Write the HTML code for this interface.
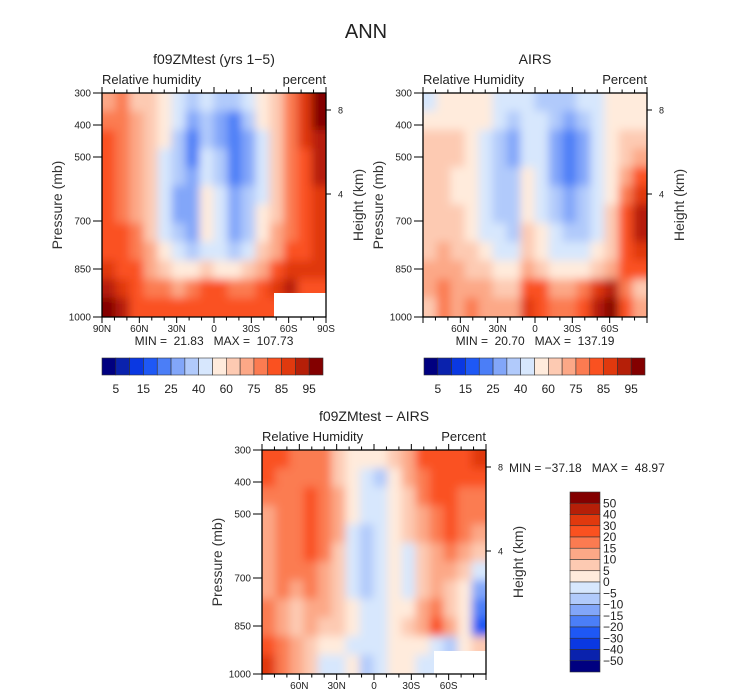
<!DOCTYPE html>
<html><head><meta charset="utf-8">
<style>
html,body{margin:0;padding:0;background:#fff;}
svg{display:block;font-family:"Liberation Sans",sans-serif;}
text{white-space:pre;}
</style></head>
<body>
<svg id="chart" width="733" height="699" viewBox="0 0 733 699">
<defs><filter id="sm" filterUnits="userSpaceOnUse" x="0" y="0" width="733" height="699"><feGaussianBlur stdDeviation="4.5"/></filter>
<clipPath id="c1"><rect x="102" y="93" width="224" height="224"/></clipPath>
<clipPath id="c2"><rect x="423" y="93" width="224" height="224"/></clipPath>
<clipPath id="c3"><rect x="262" y="450" width="224" height="224"/></clipPath></defs>
<text x="366" y="38" font-size="20" text-anchor="middle" fill="#222">ANN</text>
</svg>
<script>
// ---- data ----
const palette = ["#000080","#0a22ad","#0a38e2","#1e58f5","#4b7ef7","#82a6f9","#b1cafb","#d7e7fd","#ffebdc","#fdcab2","#fca887","#fb7b51","#fa5120","#e0390e","#b51f08","#830000"];
const rhLevels = [5,10,15,20,25,30,40,50,60,70,75,80,85,90,95];
const diffLevels = [-50,-40,-30,-20,-15,-10,-5,0,5,10,15,20,30,40,50];
const rhTickLabels = ["5","15","25","40","60","75","85","95"];
const diffTickLabels = ["50","40","30","20","15","10","5","0","\u22125","\u221210","\u221215","\u221220","\u221230","\u221240","\u221250"];
const rhRep = [2,7,12,17,22,27,35,45,55,65,72,77,82,87,92,99];
const diffRep = [-55,-45,-35,-25,-17,-12,-7,-2,2,7,12,17,25,35,45,55];
const pressureTicks = [300,400,500,700,850,1000];
const heightTicks = [8,4];
const latTicks = [90,60,30,0,-30,-60,-90];
// grid values (rows: 300 mb -> 1000 mb, cols: 90N -> 90S), class indices converted to values below
const modelIdx = [
[10,11,9,9,8,7,6,7,6,6,7,8,9,11,13,15],
[11,11,10,9,8,7,5,6,5,4,6,8,9,11,13,15],
[12,11,10,9,8,6,4,6,5,4,5,7,9,11,13,14],
[12,11,10,9,7,6,4,7,6,4,5,7,9,11,12,14],
[12,11,10,9,7,6,5,7,6,4,5,7,9,11,12,14],
[12,11,10,9,7,5,5,8,7,5,6,7,9,11,12,13],
[12,11,10,9,7,5,5,8,7,5,6,8,9,11,12,13],
[12,12,11,9,7,6,5,8,7,5,6,8,10,11,12,13],
[12,12,11,10,8,7,6,7,7,6,7,9,10,12,12,13],
[13,12,12,10,9,8,8,9,8,8,9,10,12,13,13,13],
[14,13,12,11,11,10,11,12,12,11,11,12,13,14,12,12],
[15,14,12,12,12,12,12,12,12,12,12,12,12,12,12,12]];
const airsIdx = [
[7,8,8,8,8,7,7,7,6,6,6,7,7,8,8,8],
[8,8,8,8,8,7,6,7,7,6,5,6,7,8,8,8],
[9,9,9,8,7,6,5,7,7,5,4,5,7,8,9,9],
[9,9,9,8,7,6,5,7,7,5,4,5,7,8,9,10],
[9,9,8,8,7,6,6,8,7,5,4,5,7,8,10,12],
[9,9,8,8,7,6,6,8,7,6,5,6,7,8,11,13],
[9,9,9,8,7,6,6,8,7,6,5,6,7,9,12,14],
[9,9,9,8,7,7,6,9,8,7,6,6,7,9,12,14],
[9,10,9,9,8,7,7,9,8,7,7,7,8,9,12,13],
[10,10,10,9,9,8,8,10,9,8,8,8,9,10,12,12],
[10,11,10,10,10,9,9,12,12,10,10,11,13,14,11,9],
[9,11,10,11,10,10,10,13,12,11,11,12,14,15,12,10]];
const diffIdx = [
[12,12,11,11,11,9,8,8,8,9,10,12,12,12,12,13],
[12,11,11,11,11,9,8,7,6,8,10,11,12,12,12,12],
[11,11,11,12,11,10,8,7,7,8,9,11,12,12,11,11],
[10,11,11,12,11,10,8,7,7,8,9,10,11,12,11,11],
[10,11,11,12,11,10,7,6,7,8,9,10,11,12,11,10],
[10,11,11,12,11,9,7,6,7,8,7,9,10,11,10,9],
[10,11,11,11,10,9,7,6,7,8,7,9,10,10,9,7],
[10,11,10,11,10,9,7,6,7,8,7,9,10,9,8,5],
[11,10,9,10,10,9,8,7,7,8,8,10,11,9,8,4],
[11,10,9,10,9,9,8,7,7,8,9,10,12,10,8,3],
[12,11,10,9,8,8,7,7,7,8,8,8,7,6,8,9],
[13,11,10,9,7,7,8,6,7,8,8,7,7,6,8,9]];
const modelVals = modelIdx.map(r=>r.map(i=>rhRep[i]));
const airsVals = airsIdx.map(r=>r.map(i=>rhRep[i]));
const diffVals = diffIdx.map(r=>r.map(i=>diffRep[i]));

const NS="http://www.w3.org/2000/svg";
const svg=document.getElementById('chart');
function mk(tag,attrs,parent){const e=document.createElementNS(NS,tag);for(const k in attrs)e.setAttribute(k,attrs[k]);(parent||svg).appendChild(e);return e;}
function colorFor(v,levels){let i=0;while(i<levels.length&&v>=levels[i])i++;return palette[i];}
function txt(x,y,s,size,anchor,name,parent){const t=mk('text',{x:x,y:y,'font-size':size,'text-anchor':anchor||'start',fill:'#222'},parent);t.textContent=s;


return t;}

function panel(x0,y0,vals,levels,clip,id,opts){
  const W=224,H=224,pad=14;
  const xS=lat=>x0+(90-lat)/180*W;
  const yS=p=>y0+(p-300)/700*H;
  const g=mk('g',{'clip-path':'url(#'+clip+')'});
  
  
  const inner=mk('g',{filter:'url(#sm)'},g);
  const nr=vals.length,nc=vals[0].length;
  const cw=W/nc,ch=H/nr;
  vals.forEach((row,r)=>row.forEach((v,c)=>{
    let x=x0+c*cw-0.5,y=y0+r*ch-0.5,w=cw+1,h=ch+1;
    if(c===0){x-=pad;w+=pad;} if(c===nc-1){w+=pad;}
    if(r===0){y-=pad;h+=pad;} if(r===nr-1){h+=pad;}
    const cell=mk('rect',{x:x,y:y,width:w,height:h,fill:colorFor(v,levels)},inner);
    
    
  }));
  if(opts.mask){const m=mk('rect',{x:opts.mask[0],y:opts.mask[1],width:opts.mask[2],height:opts.mask[3],fill:'#fff'},g);
    
    }
  const fr=mk('rect',{x:x0,y:y0,width:W,height:H,fill:'none',stroke:'#000','stroke-width':1.3});
  
  
  for(let lat=90;lat>=-90;lat-=10){
    const major=lat%30===0;const x=xS(lat);const L=major?6:3.5;
    mk('line',{x1:x,x2:x,y1:y0,y2:y0-L,stroke:'#000'});
    mk('line',{x1:x,x2:x,y1:y0+H,y2:y0+H+L,stroke:'#000'});
  }
  latTicks.forEach(lat=>{
    if(!opts.poles&&Math.abs(lat)===90)return;
    const s=lat===0?'0':Math.abs(lat)+(lat>0?'N':'S');
    txt(xS(lat),y0+H+15,s,10,'middle',id+'-x-tick-label');
  });
  pressureTicks.forEach(p=>{
    const y=yS(p);mk('line',{x1:x0-9,x2:x0,y1:y,y2:y,stroke:'#000'});
    txt(x0-11,y+3.5,String(p),10,'end',id+'-y-tick-label');
  });
  const hy={8:y0+17,4:y0+101};
  heightTicks.forEach(h=>{
    mk('line',{x1:x0+W,x2:x0+W+5,y1:hy[h],y2:hy[h],stroke:'#000'});
    txt(x0+W+12,hy[h]+3.5,String(h),9,'start',id+'-height-tick-label');
  });
  const pl=txt(0,0,'Pressure (mb)',14,'middle',id+'-y-axis-title');
  pl.setAttribute('transform','translate('+(x0-40)+','+(y0+H/2)+') rotate(-90)');
  pl.setAttribute('fill','#333');
  const hl=txt(0,0,'Height (km)',14,'middle',id+'-right-axis-title');
  hl.setAttribute('transform','translate('+(x0+W+37)+','+(y0+H/2)+') rotate(-90)');
  hl.setAttribute('fill','#333');
  txt(x0+W/2,y0-29,opts.title,14,'middle',id+'-title');
  txt(x0,y0-9,opts.left,13,'start',id+'-variable-label');
  txt(x0+W,y0-9,opts.right,13,'end',id+'-units-label');
}

panel(102,93,modelVals,rhLevels,'c1','model',{title:'f09ZMtest (yrs 1\u22125)',left:'Relative humidity',right:'percent',poles:true,mask:[274,293,52,24]});
panel(423,93,airsVals,rhLevels,'c2','airs',{title:'AIRS',left:'Relative Humidity',right:'Percent',poles:false});
panel(262,450,diffVals,diffLevels,'c3','diff',{title:'f09ZMtest \u2212 AIRS',left:'Relative Humidity',right:'Percent',poles:false,mask:[434,651,52,23]});

txt(214,345,'MIN =  21.83   MAX =  107.73',12,'middle','model-min-max');
txt(535,345,'MIN =  20.70   MAX =  137.19',12,'middle','airs-min-max');
txt(509,472,'MIN = \u221237.18   MAX =  48.97',12,'start','diff-min-max');

function hbar(x0,y0,name){
  const w=221/16;
  palette.forEach((c,i)=>{const r=mk('rect',{x:x0+i*w,y:y0,width:w,height:17,fill:c,stroke:'#333','stroke-width':0.6});
    
    });
  rhTickLabels.forEach((s,k)=>txt(x0+(2*k+1)*w,y0+35,s,12,'middle',name+'-label'));
}
hbar(102,358,'model-colorbar');
hbar(424,358,'airs-colorbar');
(function(){
  const x0=570,y0=492,h=180/16;
  palette.slice().reverse().forEach((c,i)=>{const r=mk('rect',{x:x0,y:y0+i*h,width:30,height:h,fill:c,stroke:'#333','stroke-width':0.6});
    
    });
  diffTickLabels.forEach((s,k)=>txt(x0+33,y0+(k+1)*h+4,s,12,'start','diff-colorbar-label'));
})();
</script>
</body></html>
